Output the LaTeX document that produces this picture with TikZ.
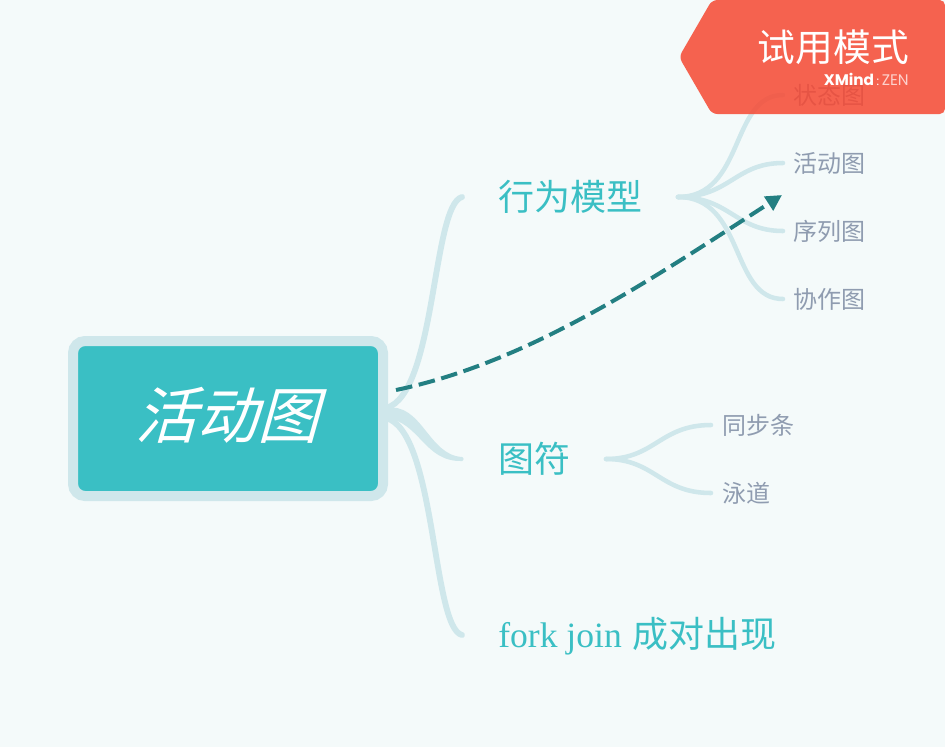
\documentclass[tikz,border=0pt]{standalone}
\usepackage{fontspec}
\usetikzlibrary{arrows.meta}
\setmainfont{Liberation Serif}
\newfontfamily\cjk{Noto Sans CJK SC}
\newfontfamily\cjkslant[FakeSlant=0.28]{Noto Sans CJK SC}
\newfontfamily\lat{Poppins}
\definecolor{bgc}{HTML}{F4FAFA}
\definecolor{branchc}{HTML}{CFE7EB}
\definecolor{tealc}{HTML}{3ABFC4}
\definecolor{leafc}{HTML}{8F9CB0}
\definecolor{dashc}{HTML}{237F82}
\definecolor{bannerc}{HTML}{F64832}
\tikzset{
  x=0.75pt,y=-0.75pt,
  branchline/.style={draw=branchc,line width=4.4pt,line cap=round,fill=none},
  subline/.style={draw=branchc,line width=3.4pt,line cap=round,fill=none},
  topic/.style={anchor=west,inner sep=0pt,text=tealc,font=\cjk\fontsize{27pt}{32pt}\selectfont},
  leafnode/.style={anchor=west,inner sep=0pt,text=leafc,font=\cjk\fontsize{18pt}{21pt}\selectfont},
}
\begin{document}
\begin{tikzpicture}
\useasboundingbox (0,0) rectangle (945,747);
\fill[bgc] (0,0) rectangle (945,747);
% hubs and free ends
\coordinate (hub) at (386,408);
\coordinate (hubb) at (386,418);
\coordinate (h1) at (678,197);
\coordinate (h2) at (606,459);
\coordinate (e1) at (462,197);
\coordinate (e2) at (462,457);
\coordinate (e2b) at (462,461);
\coordinate (e3) at (462,635);
\coordinate (l1) at (783,95);
\coordinate (l2) at (783,163);
\coordinate (l3) at (783,231);
\coordinate (l4) at (783,299);
\coordinate (s1) at (711,425);
\coordinate (s2) at (711,493);
% main branches
\draw[branchline] (hub) .. controls (436,395) and (432,205) .. (e1);
\fill[branchc] (hub) .. controls (422,402) and (428,455) .. (e2)
  .. controls (464,457) and (464,461) .. (e2b)
  .. controls (424,462) and (420,422) .. (hubb) -- cycle;
\draw[branchline] (hubb) .. controls (436,431) and (432,628) .. (e3);
% sub branches
\draw[subline] (h1) .. controls (745,197) and (730,95) .. (l1);
\draw[subline] (h1) .. controls (730,197) and (735,163) .. (l2);
\draw[subline] (h1) .. controls (730,197) and (735,231) .. (l3);
\draw[subline] (h1) .. controls (745,197) and (730,299) .. (l4);
\draw[subline] (h2) .. controls (655,459) and (660,425) .. (s1);
\draw[subline] (h2) .. controls (655,459) and (660,493) .. (s2);
% root
\node[draw=branchc,line width=7.5pt,fill=tealc,rounded corners=9pt,minimum width=232.5pt,minimum height=116.25pt,inner sep=0pt] (root) at (228,418.5) {};
\node[text=white,inner sep=0pt,font=\cjkslant\fontsize{46pt}{52pt}\selectfont] (roottext) at (227,415) {活动图};
% topics
\node[topic] (t1) at (498,197) {行为模型};
\node[topic] (t2) at (498,459) {图符};
\node[topic] (t3) at (498,636) {{\rmfamily\fontsize{26.7pt}{30pt}\selectfont fork join}\hspace{2pt} 成对出现};
% leaves
\node[leafnode] (n1) at (793,95) {状态图};
\node[leafnode] (n2) at (793,163) {活动图};
\node[leafnode] (n3) at (793,231) {序列图};
\node[leafnode] (n4) at (793,299) {协作图};
\node[leafnode] (n5) at (722,425) {同步条};
\node[leafnode] (n6) at (722,493) {泳道};
% relationship
\coordinate (rs) at (396,390);
\coordinate (re) at (782,195);
\draw[dashc,line width=3pt,dash pattern=on 12.5pt off 5pt,-{Triangle[length=12pt,width=12pt]}] (rs) .. controls (530,362) and (650,280) .. (re);
% trial banner
\fill[bannerc,fill opacity=0.85,rounded corners=4pt] (712,0) -- (945,0) -- (945,114) -- (712,114) -- (679,57) -- cycle;
\node[anchor=east,inner sep=0pt,text=white,font=\cjk\fontsize{28.3pt}{32pt}\selectfont] (trial) at (909,47) {试用模式};
\node[anchor=east,inner sep=0pt,text=white,font=\lat\fontsize{11.5pt}{13pt}\selectfont] (xm) at (909,79) {\textbf{XMind}\,{\small:}\,{\color{white!75!bannerc}ZEN}};
\end{tikzpicture}
\end{document}
